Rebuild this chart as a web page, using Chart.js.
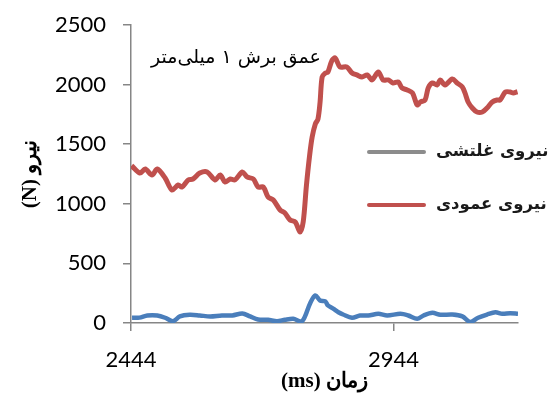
<!DOCTYPE html>
<html>
<head>
<meta charset="utf-8">
<script src="https://cdn.jsdelivr.net/npm/chart.js@4"></script>
<style>
    html, body { margin: 0; padding: 0; background: #fff; }
    #wrap { width: 555px; height: 394px; }
</style>
</head>
<body>
<div id="wrap"><canvas id="chart" width="555" height="394"></canvas></div>
<script>
// time (ms) and force (N)
const verticalTime = [2445, 2461, 2471, 2484, 2494, 2509, 2522, 2534, 2541, 2553, 2562, 2575, 2589, 2604, 2614, 2623, 2633, 2642, 2656, 2665, 2677, 2686, 2696, 2705, 2715, 2728, 2737, 2747, 2757, 2766, 2772, 2778, 2784, 2789, 2795, 2800, 2804, 2808, 2814, 2819, 2827, 2833, 2842, 2855, 2865, 2874, 2884, 2894, 2903, 2915, 2924, 2934, 2943, 2953, 2960, 2970, 2980, 2989, 2995, 3004, 3010, 3018, 3027, 3033, 3042, 3056, 3065, 3075, 3080, 3086, 3094, 3103, 3113, 3122, 3132, 3141, 3147, 3157, 3166, 3172, 3180];
const verticalForce = [1320, 1258, 1292, 1242, 1292, 1216, 1116, 1158, 1141, 1200, 1208, 1258, 1267, 1200, 1242, 1183, 1208, 1200, 1267, 1225, 1208, 1141, 1141, 1057, 1032, 948, 923, 864, 847, 763, 850, 1150, 1400, 1560, 1670, 1710, 1850, 2064, 2097, 2106, 2206, 2223, 2148, 2148, 2097, 2081, 2064, 2081, 2039, 2106, 2039, 2039, 2014, 2022, 1972, 1955, 1930, 1829, 1854, 1871, 1972, 2014, 1997, 2039, 1997, 2047, 2014, 1980, 1930, 1854, 1804, 1770, 1770, 1804, 1854, 1871, 1871, 1938, 1938, 1930, 1940];

const rollingTime = [2446, 2460, 2475, 2494, 2509, 2524, 2537, 2556, 2575, 2595, 2617, 2637, 2656, 2671, 2686, 2705, 2722, 2737, 2753, 2770, 2785, 2795, 2804, 2814, 2819, 2829, 2839, 2848, 2865, 2880, 2896, 2915, 2932, 2957, 2972, 2989, 3001, 3018, 3033, 3056, 3075, 3090, 3105, 3122, 3138, 3151, 3166, 3181];
const rollingForce = [44, 45, 63, 63, 44, 15, 55, 69, 63, 55, 63, 63, 80, 55, 30, 27, 15, 27, 35, 15, 164, 231, 189, 182, 147, 120, 90, 71, 44, 63, 63, 77, 63, 77, 63, 35, 63, 86, 69, 71, 55, 8, 44, 71, 90, 77, 82, 77];

const seriesNames = ['نیروی غلتشی', 'نیروی عمودی'];
const lineColors = ['#4A7EBB', '#C0504D'];
const legendColors = ['#8C8C8C', '#C0504D'];
const xTicks = [2444, 2944];
const yTicks = [0, 500, 1000, 1500, 2000, 2500];
const noteText = 'عمق برش ۱ میلی‌متر';

const toPoints = (xs, ys) => xs.map((x, i) => ({ x: x, y: ys[i] }));

const notePlugin = {
    id: 'note',
    afterDraw(chart) {
        const ctx = chart.ctx;
        const a = chart.chartArea;
        ctx.save();
        ctx.fillStyle = '#000';
        ctx.font = '19px "DejaVu Sans"';
        ctx.textAlign = 'center';
        ctx.textBaseline = 'middle';
        ctx.fillText(noteText, a.left + 105, a.top + 33);

        // legend sits over the right of the plot
        ctx.font = 'bold 16.5px "DejaVu Sans"';
        ctx.textAlign = 'left';
        ctx.lineWidth = 4;
        ctx.lineCap = 'round';
        seriesNames.forEach((name, i) => {
            const y = a.top + 127 + i * 53;
            ctx.strokeStyle = legendColors[i];
            ctx.beginPath();
            ctx.moveTo(a.right - 149, y);
            ctx.lineTo(a.right - 94, y);
            ctx.stroke();
            ctx.fillStyle = '#1a1a1a';
            ctx.fillText(name, a.right - 82, y);
        });
        ctx.restore();
    }
};

new Chart(document.getElementById('chart'), {
    type: 'line',
    data: {
        datasets: [
            {
                label: seriesNames[0],
                data: toPoints(rollingTime, rollingForce),
                borderColor: lineColors[0],
                borderWidth: 4.5,
                pointRadius: 0,
                tension: 0.3
            },
            {
                label: seriesNames[1],
                data: toPoints(verticalTime, verticalForce),
                borderColor: lineColors[1],
                borderWidth: 5,
                pointRadius: 0,
                tension: 0.3
            }
        ]
    },
    options: {
        responsive: false,
        animation: false,
        layout: { padding: { top: 25, right: 37, bottom: 0, left: 0 } },
        plugins: { legend: { display: false }, tooltip: { enabled: false } },
        scales: {
            x: {
                type: 'linear',
                min: 2444,
                max: 3181,
                afterBuildTicks: s => { s.ticks = xTicks.map(v => ({ value: v })); },
                afterFit: s => { s.height = 71; s.paddingLeft = 0; s.paddingRight = 0; },
                ticks: {
                    color: '#000',
                    font: { family: 'Lato', size: 22 },
                    padding: 16,
                    maxRotation: 0,
                    callback: v => String(v)
                },
                grid: { drawOnChartArea: false, color: '#868686', tickLength: 8, lineWidth: 1.5 },
                border: { color: '#868686', width: 1.5 },
                title: {
                    display: true,
                    text: '(ms) زمان',
                    color: '#000',
                    font: { family: 'Liberation Serif', size: 21, weight: 'bold' },
                    padding: { top: 0, bottom: 0 }
                }
            },
            y: {
                min: 0,
                max: 2500,
                afterBuildTicks: s => { s.ticks = yTicks.map(v => ({ value: v })); },
                afterFit: s => { s.width = 131; s.paddingTop = 0; s.paddingBottom = 0; },
                ticks: {
                    color: '#000',
                    font: { family: 'Lato', size: 22 },
                    padding: 17,
                    callback: v => String(v)
                },
                grid: { drawOnChartArea: false, color: '#868686', tickLength: 8, lineWidth: 1.5 },
                border: { color: '#868686', width: 1.5 },
                title: {
                    display: true,
                    text: '(N) نیرو',
                    color: '#000',
                    font: { family: 'Liberation Serif', size: 21, weight: 'bold' },
                    padding: { top: 18, bottom: 0 }
                }
            }
        }
    },
    plugins: [notePlugin]
});
</script>
</body>
</html>
